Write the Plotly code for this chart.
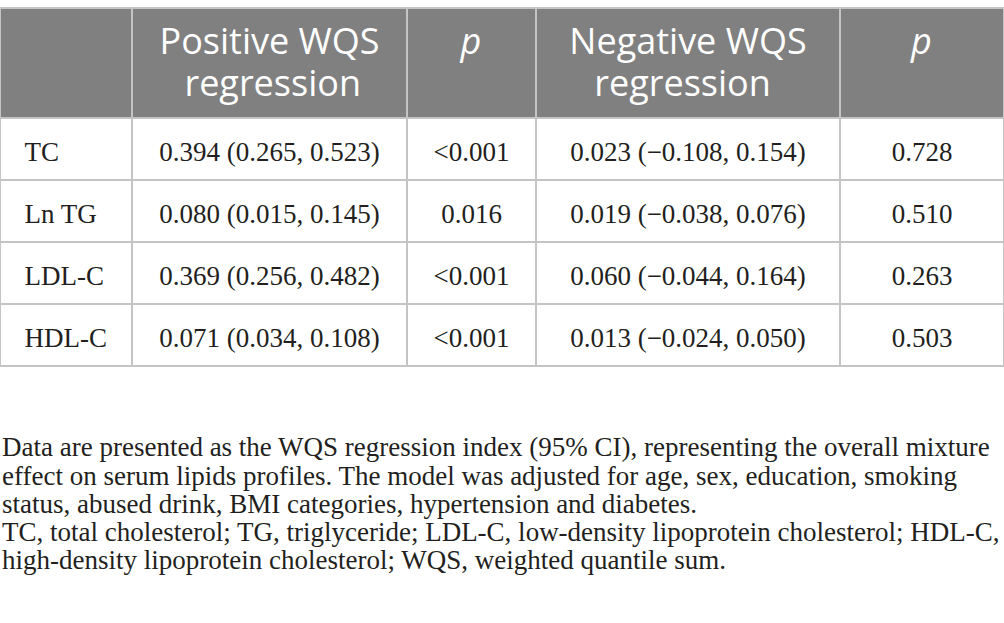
import plotly.graph_objects as go

# table content
lipids = ["TC", "Ln TG", "LDL-C", "HDL-C"]
positive_wqs = ["0.394 (0.265, 0.523)", "0.080 (0.015, 0.145)",
                "0.369 (0.256, 0.482)", "0.071 (0.034, 0.108)"]
positive_p = ["<0.001", "0.016", "<0.001", "<0.001"]
negative_wqs = ["0.023 (\u22120.108, 0.154)", "0.019 (\u22120.038, 0.076)",
                "0.060 (\u22120.044, 0.164)", "0.013 (\u22120.024, 0.050)"]
negative_p = ["0.728", "0.510", "0.263", "0.503"]
header_lines = [[""], ["Positive WQS", "regression"], ["<i>p</i>"],
                ["Negative WQS", "regression"], ["<i>p</i>"]]

footnote = [
    "Data are presented as the WQS regression index (95% CI), representing the overall mixture",
    "effect on serum lipids profiles. The model was adjusted for age, sex, education, smoking",
    "status, abused drink, BMI categories, hypertension and diabetes.",
    "TC, total cholesterol; TG, triglyceride; LDL-C, low-density lipoprotein cholesterol; HDL-C,",
    "high-density lipoprotein cholesterol; WQS, weighted quantile sum.",
]

W, H = 1004, 623
line_col = "#c4c4c4"
NB = "\u00a0"
# a "<br>" in the value stops plotly's word-wrapping from splitting the span tags
END = "<br>"

# --- header: table lines are left-aligned inside the block, so pad the
# second line with a few nbsp to look centred
pad_second = [0, 3, 0, 3, 0]
hdr = []
for lines, pad in zip(header_lines, pad_second):
    parts = ['<span style="font-size:36px">' + l + "</span>" for l in lines]
    if len(parts) > 1:
        parts[1] = NB * pad + parts[1]
    else:
        parts.append("")
    hdr.append("<br>".join(parts))

# --- body: a tall nbsp pushes the text down so it sits mid-row
tall = '<span style="font-size:39px">' + NB + "</span>"


def centred(vals):
    return [tall + v.replace("<", "&lt;") + tall + END for v in vals]


first_col = [tall + NB + v + END for v in lipids]

fig = go.Figure(go.Table(
    columnwidth=[132, 275, 129, 304, 164],
    header=dict(
        values=hdr,
        fill_color="#808080",
        line=dict(color=line_col, width=2),
        font=dict(family="Open Sans", size=32, color="white"),
        align="center",
        height=110,
    ),
    cells=dict(
        values=[first_col, centred(positive_wqs), centred(positive_p),
                centred(negative_wqs), centred(negative_p)],
        fill_color="white",
        line=dict(color=line_col, width=2),
        font=dict(family="Liberation Serif", size=27, color="#231f20"),
        align=["left", "center", "center", "center", "center"],
        height=62,
    ),
    domain=dict(x=[0, 1], y=[0, 1]),
))

# footnote lines below the table
first_y, step = 445, 28.6
for i, txt in enumerate(footnote):
    fig.add_annotation(
        text=txt, xref="paper", yref="paper",
        x=0, y=1 - (first_y + i * step) / H,
        xanchor="left", yanchor="middle", showarrow=False,
        font=dict(family="Liberation Serif", size=27, color="#231f20"),
    )

fig.update_layout(
    width=W, height=H,
    margin=dict(l=0, r=0, t=8, b=0),
    paper_bgcolor="white",
    plot_bgcolor="white",
)

fig.write_html("out.html", config={"displayModeBar": False},
               post_script="document.body.style.margin='0';")
